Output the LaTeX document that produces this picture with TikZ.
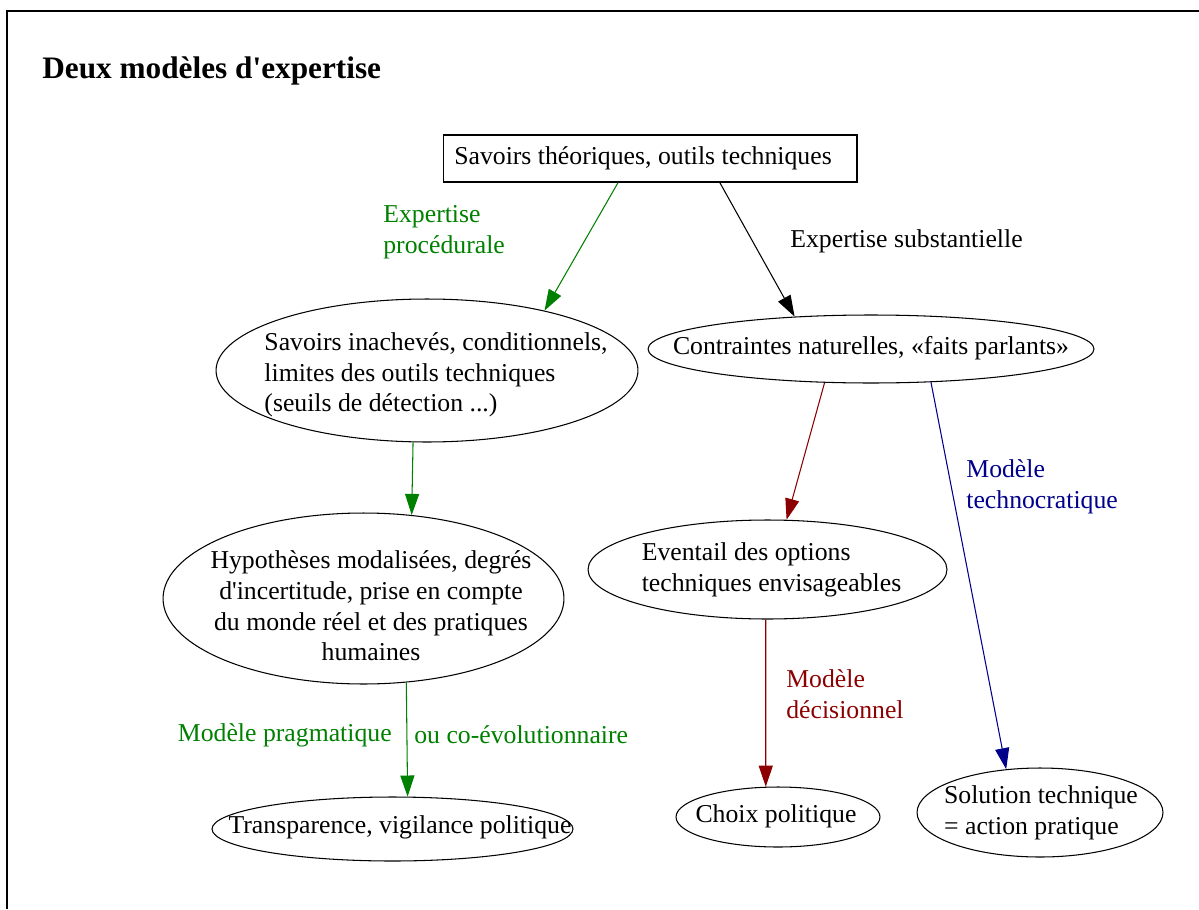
\documentclass[tikz,border=0pt]{standalone}
\usepackage{fontspec}
\setmainfont{Liberation Serif}
\usetikzlibrary{arrows.meta,shapes.geometric}

\definecolor{vert}{RGB}{0,128,0}
\definecolor{rouge}{RGB}{139,0,0}
\definecolor{marine}{RGB}{0,0,139}

\tikzset{
  oval/.style={ellipse, draw, line width=0.6pt, inner sep=0pt},
  txt/.style={font=\fontsize{14.65}{17.4}\selectfont, inner sep=0pt},
  fleche/.style={-{Triangle[length=12pt,width=8pt]}, line width=0.6pt},
}

\begin{document}
\begin{tikzpicture}[x=0.02cm, y=-0.02cm]
  \useasboundingbox (0,0) rectangle (1199,909);
  % cadre
  \draw[line width=0.9pt] (7,909) -- (7,11) -- (1199,11);
  \node[txt, font=\fontsize{17.8}{20}\selectfont\bfseries, anchor=base west] (titre) at (42,79) {Deux modèles d\textquotesingle expertise};

  % noeuds
  \node[draw, line width=0.6pt, txt, minimum width=8.28cm, minimum height=0.94cm] (savoirs) at (650,158.5) {};
  \node[txt] (savoirs-t) at (643,158) {Savoirs théoriques, outils techniques};

  \node[oval, minimum width=8.44cm, minimum height=2.86cm] (inacheves) at (427,370.5) {};
  \node[txt, align=left] (inacheves-t) at (436,375) {Savoirs inachevés, conditionnels,\\limites des outils techniques\\(seuils de détection ...)};

  \node[oval, minimum width=8.92cm, minimum height=1.36cm] (contraintes) at (871,349) {};
  \node[txt] (contraintes-t) at (871,348) {Contraintes naturelles, «faits parlants»};

  \node[oval, minimum width=8.02cm, minimum height=3.42cm] (hypotheses) at (363.5,598.5) {};
  \node[txt, align=center] (hypotheses-t) at (371,606) {Hypothèses modalisées, degrés\\d\textquotesingle incertitude, prise en compte\\du monde réel et des pratiques\\humaines};

  \node[oval, minimum width=7.18cm, minimum height=1.98cm] (eventail) at (767.5,569.5) {};
  \node[txt, align=left] (eventail-t) at (771.5,570) {Eventail des options\\techniques envisageables};

  \node[oval, minimum width=7.22cm, minimum height=1.28cm] (transparence) at (392.5,829) {};
  \node[txt] (transparence-t) at (400,827) {Transparence, vigilance politique};

  \node[oval, minimum width=4.08cm, minimum height=1.2cm] (choix) at (778,817) {};
  \node[txt] (choix-t) at (776,816) {Choix politique};

  \node[oval, minimum width=4.92cm, minimum height=1.78cm] (solution) at (1040,812.5) {};
  \node[txt, align=left] (solution-t) at (1041,813) {Solution technique\\= action pratique};

  % fleches
  \draw[fleche, vert] (savoirs.217) -- (inacheves.27);
  \draw[fleche] (savoirs.341) -- (contraintes.157);
  \draw[fleche, vert] (inacheves.259) -- (hypotheses.60);
  \draw[fleche, rouge] (contraintes.216) -- (eventail.69);
  \draw[fleche, marine] (contraintes.331) -- (solution.128);
  \draw[fleche, vert] (hypotheses.297) -- (transparence.65);
  \draw[fleche, rouge] (eventail.268) -- (choix.112);

  % etiquettes
  \node[txt, vert, align=left, anchor=west] (procedurale) at (383,232) {Expertise\\procédurale};
  \node[txt, anchor=west] (substantielle) at (790,241) {Expertise substantielle};
  \node[txt, marine, align=left, anchor=west] (technocratique) at (966,487) {Modèle\\technocratique};
  \node[txt, rouge, align=left, anchor=west] (decisionnel) at (786,694) {Modèle\\décisionnel};
  \node[txt, vert, anchor=east] (pragmatique) at (392,735) {Modèle pragmatique};
  \node[txt, vert, anchor=west] (coevolution) at (414,735) {ou co-évolutionnaire};
\end{tikzpicture}
\end{document}
